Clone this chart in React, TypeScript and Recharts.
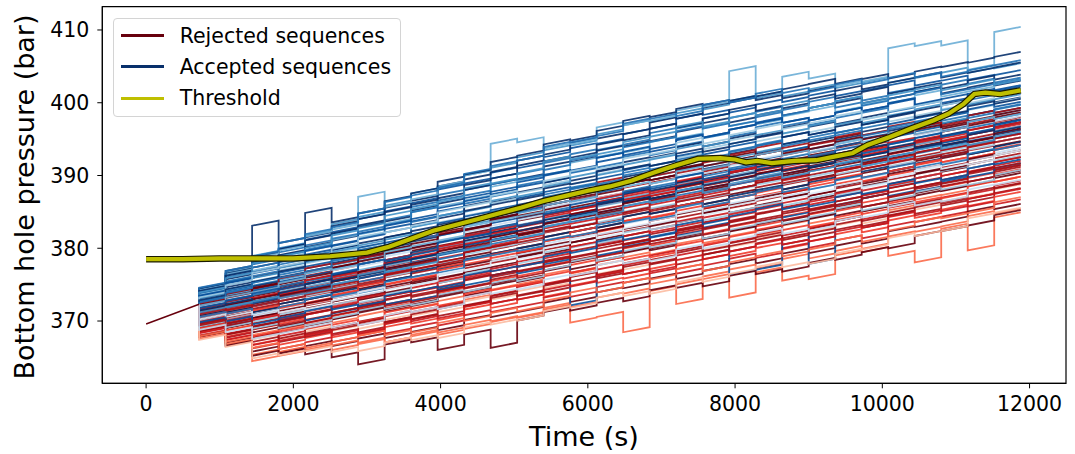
import React from 'react';
import { LineChart, Line, XAxis, YAxis, ReferenceArea, Legend } from 'recharts';

// ---------- data ----------
const X_TICKS = [0, 2000, 4000, 6000, 8000, 10000, 12000];
const Y_TICKS = [370, 380, 390, 400, 410];
const X_DOMAIN = [-595, 12495];
const Y_DOMAIN = [361.44, 413.2];

// start time of each 360 s segment (s)
const SEGMENT_STARTS = [720, 1080, 1440, 1800, 2160, 2520, 2880, 3240, 3600, 3960, 4320, 4680, 5040, 5400, 5760, 6120, 6480, 6840, 7200, 7560, 7920, 8280, 8640, 9000, 9360, 9720, 10080, 10440, 10800, 11160, 11520];
const SEGMENT_LENGTH = 360;
// pressure rise within one segment (bar)
const SEGMENT_DRIFT = 0.7;

// centre and half width of the ensemble band per segment (bar)
const BAND_CENTER = [371.5, 372.0, 372.5, 373.3, 374.2, 375.0, 375.9, 376.8, 377.8, 378.8, 379.8, 380.8, 381.8, 382.8, 383.7, 384.6, 385.5, 386.4, 387.2, 388.0, 388.7, 389.3, 389.9, 390.5, 391.1, 391.7, 392.4, 393.1, 393.8, 394.5, 395.2];
const BAND_HALF_WIDTH = [3.8, 5.5, 7.3, 8.0, 8.6, 9.1, 9.6, 10.0, 10.4, 10.8, 11.1, 11.4, 11.5, 11.7, 11.8, 12.0, 12.1, 12.2, 12.3, 12.4, 12.4, 12.4, 12.4, 12.3, 12.1, 11.9, 11.6, 11.3, 11.0, 10.7, 10.4];

// shared first part of every sequence
const INITIAL_TIMES = [0, 720];
const INITIAL_VALUES = [369.6, 372.3];

// position of each sequence inside the band, per segment (% of half width)
const ACCEPTED_OFFSETS = [
  [86,90,93,88,92,95,91,94,97,92,95,93,96,94,91,95,97,93,95,92,96,94,91,95,93,96,92,94,97,93,95],
  [80,84,82,87,85,83,88,86,84,89,85,87,83,86,88,84,87,85,89,86,83,87,85,88,84,86,89,85,87,84,86],
  [75,79,77,81,76,80,78,74,79,82,77,80,76,79,81,77,75,80,78,82,77,79,76,81,78,75,80,77,82,79,76],
  [70,74,71,75,73,70,76,72,74,71,77,73,70,75,72,76,73,71,74,77,72,75,70,74,76,72,73,77,71,74,72],
  [66,69,65,70,67,71,66,69,72,67,64,70,68,65,71,69,66,70,67,72,68,65,69,71,66,70,68,73,67,69,65],
  [60,64,62,66,61,63,67,62,60,65,63,61,66,64,60,63,67,62,65,61,64,66,62,60,65,63,67,61,64,62,66],
  [56,59,55,60,58,56,61,57,59,55,60,58,62,56,59,57,61,55,58,60,56,62,58,55,59,61,57,60,56,58,61],
  [50,54,52,55,51,56,53,50,55,52,57,51,54,56,50,53,55,52,57,51,54,50,56,53,52,55,51,54,57,52,50],
  [46,49,45,50,47,51,46,48,52,47,45,50,48,53,46,49,47,51,45,48,52,46,50,47,49,53,46,48,51,45,49],
  [41,45,43,46,42,44,47,43,41,46,44,42,47,45,41,44,46,43,47,42,45,41,46,44,42,47,43,45,41,46,44],
  [38,41,37,42,39,41,36,40,43,38,41,39,37,42,40,38,43,39,41,37,40,42,38,41,39,43,37,40,42,38,41],
  [33,37,35,38,34,36,39,35,33,38,36,34,39,37,33,36,38,35,39,34,37,33,38,36,34,39,35,37,33,38,36],
  [30,33,29,34,31,33,28,32,35,30,33,31,29,34,32,30,35,31,33,29,32,34,30,33,31,35,29,32,34,30,33],
  [25,29,27,30,26,28,31,27,25,30,28,26,31,29,25,28,30,27,31,26,29,25,30,28,26,31,27,29,25,30,28],
  [22,25,21,26,23,25,20,24,27,22,25,23,21,26,24,22,27,23,25,21,24,26,22,25,23,27,21,24,26,22,25],
  [17,21,19,22,18,20,23,19,17,22,20,18,23,21,17,20,22,19,23,18,21,17,22,20,18,23,19,21,17,22,20],
  [14,17,13,18,15,17,12,16,19,14,17,15,13,18,16,14,19,15,17,13,16,18,14,17,15,19,13,16,18,14,17],
  [9,13,11,14,10,12,15,11,9,14,12,10,15,13,9,12,14,11,15,10,13,9,14,12,10,15,11,13,9,14,12],
  [5,8,4,9,6,8,3,7,10,5,8,6,4,9,7,5,10,6,8,4,7,9,5,8,6,10,4,7,9,5,8],
  [0,3,-1,4,1,3,-2,2,5,0,3,1,-1,4,2,0,5,1,3,-1,2,4,0,3,1,5,-1,2,4,0,3],
  [-6,-3,-7,-2,-5,-3,-8,-4,-1,-6,-3,-5,-7,-2,-4,-6,-1,-5,-3,-7,-4,-2,-6,-3,-5,-1,-7,-4,-2,-6,-3],
  [-12,-9,-13,-8,-11,-9,-14,-10,-7,-12,-9,-11,-13,-8,-10,-12,-7,-11,-9,-13,-10,-8,-12,-9,-11,-7,-13,-10,-8,-12,-9],
  [-20,-17,-21,-16,-19,-17,-22,-18,-15,-20,-17,-19,-21,-16,-18,-20,-15,-19,-17,-21,-18,-16,-20,-17,-19,-15,-21,-18,-16,-20,-17],
  [-30,-27,-31,-26,-29,-27,-32,-28,-25,-30,-27,-29,-31,-26,-28,-30,-25,-29,-27,-31,-28,-26,-30,-27,-29,-25,-31,-28,-26,-30,-27],
  [-38,-42,-40,-36,-44,-40,-38,-42,-45,-39,-41,-37,-43,-40,-95,-44,-41,-38,-42,-39,-97,-96,-43,-100,-40,-38,-42,-44,-39,-41,-37],
  [84,88,90,86,89,92,88,91,87,93,90,88,92,89,94,90,87,92,89,94,96,92,89,93,90,88,92,95,91,93,96],
  [72,68,71,74,69,73,70,67,72,75,70,73,69,71,74,68,72,70,75,71,68,73,70,74,71,69,73,76,70,72,74],
  [52,48,51,54,49,53,50,47,52,55,50,53,49,51,54,48,52,50,55,51,48,53,50,54,51,49,53,56,50,52,54],
  [82,86,88,84,90,87,120,92,89,93,95,122,114,96,93,103,97,94,98,95,129,96,113,107,95,97,133,133,131,97,143],
  [88,95,150,97,128,98,96,100,97,99,96,100,98,101,97,99,102,98,100,97,94,96,99,101,98,100,97,102,104,106,110],
  [90,95,92,97,94,90,96,99,94,91,97,95,92,98,95,93,99,96,92,97,94,99,95,92,97,94,98,95,92,96,99],
  [78,83,80,76,84,81,79,85,82,78,83,80,86,81,77,83,80,85,79,82,86,80,78,84,81,85,79,82,77,83,80],
  [73,77,79,74,72,78,75,80,76,73,79,74,77,81,75,72,78,76,80,73,77,75,81,74,78,72,77,80,75,78,73],
  [61,65,60,64,67,62,59,66,63,61,67,64,60,65,62,68,63,59,66,61,64,67,62,60,65,63,68,62,59,66,64],
  [55,59,61,56,53,58,62,57,54,60,56,59,53,58,61,55,59,56,62,54,58,60,55,57,61,53,58,60,56,54,59],
  [45,49,44,48,51,46,43,50,47,44,51,48,45,49,46,52,47,43,50,45,48,51,46,44,49,47,52,46,43,50,48],
  [36,40,42,37,34,39,43,38,35,41,37,40,34,39,42,36,40,37,43,35,39,41,36,38,42,34,39,41,37,35,40],
  [25,29,24,28,31,26,23,30,27,24,31,28,25,29,26,32,27,23,30,25,28,31,26,24,29,27,32,26,23,30,28],
  [16,20,22,17,14,19,23,18,15,21,17,20,14,19,22,16,20,17,23,15,19,21,16,18,22,14,19,21,17,15,20],
  [8,12,7,11,14,9,6,13,10,7,14,11,8,12,9,15,10,6,13,8,11,14,9,7,12,10,15,9,6,13,11],
  [1,5,7,2,-1,4,8,3,0,6,2,5,-1,4,7,1,5,2,8,0,4,6,1,3,7,-1,4,6,2,0,5],
  [-16,-12,-17,-13,-10,-15,-18,-11,-14,-17,-10,-13,-16,-12,-15,-9,-14,-18,-11,-16,-13,-10,-15,-17,-12,-14,-9,-15,-18,-11,-13],
  [-24,-20,-18,-23,-26,-21,-17,-22,-25,-19,-23,-20,-26,-21,-18,-24,-20,-23,-17,-25,-21,-19,-24,-22,-18,-26,-21,-19,-23,-25,-20],
  [-35,-31,-36,-32,-29,-34,-37,-30,-33,-36,-29,-32,-35,-31,-34,-28,-33,-37,-30,-35,-32,-29,-34,-36,-31,-33,-28,-34,-37,-30,-32],
  [-50,-46,-44,-49,-52,-47,-43,-48,-51,-45,-49,-46,-52,-47,-44,-50,-46,-49,-43,-51,-47,-45,-50,-48,-44,-52,-47,-45,-49,-51,-46],
  [-62,-58,-63,-59,-56,-61,-64,-57,-60,-63,-56,-59,-62,-58,-61,-55,-60,-64,-57,-62,-59,-56,-61,-63,-58,-60,-55,-61,-64,-57,-59],
];
const ACCEPTED_COLORS = [
  '#4292c6', '#08519c', '#2171b5', '#08306b', '#6baed6', '#08519c', '#2171b5', '#08306b', '#9ecae1', '#08519c',
  '#2171b5', '#08306b', '#4292c6', '#08519c', '#c6dbef', '#2171b5', '#08306b', '#6baed6', '#08519c', '#2171b5',
  '#9ecae1', '#08306b', '#c6dbef', '#9ecae1', '#08519c', '#08306b', '#2171b5', '#4292c6', '#6baed6', '#08306b',
  '#2171b5', '#08306b', '#4292c6', '#08519c', '#9ecae1', '#08306b', '#2171b5', '#6baed6', '#08519c', '#08306b',
  '#4292c6', '#2171b5', '#deebf7', '#08519c', '#9ecae1', '#c6dbef',
];

const REJECTED_OFFSETS = [
  [22,26,24,21,27,25,23,28,24,22,26,29,23,25,27,22,26,24,28,23,25,21,27,24,26,22,28,25,23,27,24],
  [18,21,17,22,20,16,23,19,21,17,22,18,20,24,19,17,21,23,18,20,16,22,19,21,24,18,20,17,23,19,21],
  [13,16,12,17,14,18,13,15,11,16,19,14,12,17,15,13,18,14,16,12,17,15,13,19,14,16,12,18,15,13,17],
  [8,11,7,12,9,13,8,10,6,11,14,9,7,12,10,8,13,9,11,7,12,10,8,14,9,11,7,13,10,8,12],
  [3,6,2,7,4,8,3,5,1,6,9,4,2,7,5,3,8,4,6,2,7,5,3,9,4,6,2,8,5,3,7],
  [-2,1,-3,2,-1,3,-2,0,-4,1,4,-1,-3,2,0,-2,3,-1,1,-3,2,0,-2,4,-1,1,-3,3,0,-2,2],
  [-7,-4,-8,-3,-6,-2,-7,-5,-9,-4,-1,-6,-8,-3,-5,-7,-2,-6,-4,-8,-3,-5,-7,-1,-6,-4,-8,-2,-5,-7,-3],
  [-12,-9,-13,-8,-11,-7,-12,-10,-14,-9,-6,-11,-13,-8,-10,-12,-7,-11,-9,-13,-8,-10,-12,-6,-11,-9,-13,-7,-10,-12,-8],
  [-17,-14,-18,-13,-16,-12,-17,-15,-19,-14,-11,-16,-18,-13,-15,-17,-12,-16,-14,-18,-13,-15,-17,-11,-16,-14,-18,-12,-15,-17,-13],
  [-18,-22,-19,-24,-20,-17,-23,-21,-18,-25,-20,-22,-19,-23,-17,-21,-24,-19,-22,-18,-23,-20,-17,-24,-21,-19,-23,-18,-22,-20,-24],
  [-23,-27,-24,-29,-25,-22,-28,-26,-23,-30,-25,-27,-24,-28,-22,-26,-29,-24,-27,-23,-28,-25,-22,-29,-26,-24,-28,-23,-27,-25,-29],
  [-28,-32,-29,-34,-30,-27,-33,-31,-28,-35,-30,-32,-29,-33,-27,-31,-34,-29,-32,-28,-33,-30,-27,-34,-31,-29,-33,-28,-32,-30,-34],
  [-33,-37,-34,-39,-35,-32,-38,-36,-33,-40,-35,-37,-34,-38,-32,-36,-39,-34,-37,-33,-38,-35,-32,-39,-36,-34,-38,-33,-37,-35,-39],
  [-42,-38,-41,-37,-43,-39,-36,-42,-40,-38,-44,-39,-41,-37,-43,-40,-38,-42,-36,-41,-39,-43,-37,-40,-42,-38,-44,-39,-41,-37,-40],
  [-47,-43,-46,-42,-48,-44,-41,-47,-45,-43,-49,-44,-46,-42,-48,-45,-43,-47,-41,-46,-44,-48,-42,-45,-47,-43,-49,-44,-46,-42,-45],
  [-52,-48,-51,-47,-53,-49,-46,-52,-50,-48,-54,-49,-51,-47,-53,-50,-48,-52,-46,-51,-49,-53,-47,-50,-52,-48,-54,-49,-51,-47,-50],
  [-57,-53,-56,-52,-58,-54,-51,-57,-55,-53,-59,-54,-56,-52,-58,-55,-53,-57,-51,-56,-54,-58,-52,-55,-57,-53,-59,-54,-56,-52,-55],
  [-58,-62,-59,-63,-57,-61,-64,-58,-60,-62,-56,-61,-59,-63,-57,-60,-62,-58,-64,-59,-61,-57,-63,-60,-58,-62,-56,-61,-59,-63,-60],
  [-63,-67,-64,-68,-62,-66,-69,-63,-65,-67,-61,-66,-64,-68,-62,-65,-67,-63,-69,-64,-66,-62,-68,-65,-63,-67,-61,-66,-64,-68,-65],
  [-68,-72,-69,-73,-67,-71,-74,-68,-70,-72,-66,-71,-69,-73,-67,-70,-72,-68,-74,-69,-71,-67,-73,-70,-68,-72,-66,-71,-69,-73,-70],
  [-73,-77,-74,-78,-72,-76,-79,-73,-75,-77,-71,-76,-74,-78,-72,-75,-77,-73,-79,-74,-76,-72,-78,-75,-73,-77,-71,-76,-74,-78,-75],
  [-82,-78,-81,-85,-79,-83,-77,-82,-80,-84,-78,-81,-83,-79,-85,-80,-82,-78,-84,-81,-79,-83,-77,-82,-80,-84,-78,-81,-83,-79,-85],
  [-88,-84,-87,-91,-85,-89,-83,-88,-86,-90,-84,-87,-89,-85,-91,-86,-88,-84,-90,-87,-85,-89,-83,-88,-86,-90,-84,-87,-89,-85,-91],
  [-94,-90,-93,-97,-91,-95,-89,-94,-92,-96,-90,-93,-95,-91,-97,-92,-94,-90,-96,-93,-91,-95,-89,-94,-92,-96,-90,-93,-95,-91,-97],
  [32,28,31,26,33,29,27,32,30,34,28,31,26,33,29,35,30,27,32,29,34,31,28,33,36,30,32,34,29,31,33],
  [0,-4,-1,3,-3,1,-5,-2,2,-4,0,-3,4,-1,-5,1,-2,3,-4,0,-3,2,-1,4,-2,1,-4,3,0,-3,2],
  [-60,-64,-61,-58,-65,-62,-59,-66,-63,-60,-67,-62,-58,-64,-61,-66,-60,-63,-59,-65,-62,-60,-66,-61,-58,-64,-62,-59,-65,-61,-63],
  [14,10,13,8,15,11,9,14,12,16,10,13,8,15,11,17,12,9,14,11,16,13,10,15,18,12,14,16,11,13,15],
  [-85,-88,-105,-90,-92,-88,-91,-94,-90,-93,-95,-92,-96,-93,-115,-114,-138,-98,-118,-96,-122,-99,-113,-117,-97,-100,-113,-130,-98,-135,-102],
  [-86,-92,-95,-93,-98,-106,-120,-97,-100,-115,-102,-124,-99,-96,-101,-98,-103,-97,-100,-104,-98,-101,-103,-99,-102,-100,-104,-98,-101,-103,-99],
  [33,37,32,36,39,34,31,38,35,32,39,36,33,37,34,40,35,31,38,33,36,39,34,32,37,35,40,34,31,38,36],
  [26,30,32,27,24,29,33,28,25,31,27,30,24,29,32,26,30,27,33,25,29,31,26,28,32,24,29,31,27,25,30],
  [14,18,13,17,20,15,12,19,16,13,20,17,14,18,15,21,16,12,19,14,17,20,15,13,18,16,21,15,12,19,17],
  [5,9,11,6,3,8,12,7,4,10,6,9,3,8,11,5,9,6,12,4,8,10,5,7,11,3,8,10,6,4,9],
  [-6,-2,-7,-3,0,-5,-8,-1,-4,-7,0,-3,-6,-2,-5,1,-4,-8,-1,-6,-3,0,-5,-7,-2,-4,1,-5,-8,-1,-3],
  [-16,-12,-10,-15,-18,-13,-9,-14,-17,-11,-15,-12,-18,-13,-10,-16,-12,-15,-9,-17,-13,-11,-16,-14,-10,-18,-13,-11,-15,-17,-12],
  [-23,-19,-24,-20,-17,-22,-25,-18,-21,-24,-17,-20,-23,-19,-22,-16,-21,-25,-18,-23,-20,-17,-22,-24,-19,-21,-16,-22,-25,-18,-20],
  [-33,-29,-27,-32,-35,-30,-26,-31,-34,-28,-32,-29,-35,-30,-27,-33,-29,-32,-26,-34,-30,-28,-33,-31,-27,-35,-30,-28,-32,-34,-29],
  [-40,-36,-41,-37,-34,-39,-42,-35,-38,-41,-34,-37,-40,-36,-39,-33,-38,-42,-35,-40,-37,-34,-39,-41,-36,-38,-33,-39,-42,-35,-37],
  [-51,-47,-45,-50,-53,-48,-44,-49,-52,-46,-50,-47,-53,-48,-45,-51,-47,-50,-44,-52,-48,-46,-51,-49,-45,-53,-48,-46,-50,-52,-47],
  [-58,-54,-59,-55,-52,-57,-60,-53,-56,-59,-52,-55,-58,-54,-57,-51,-56,-60,-53,-58,-55,-52,-57,-59,-54,-56,-51,-57,-60,-53,-55],
  [-68,-64,-62,-67,-70,-65,-61,-66,-69,-63,-67,-64,-70,-65,-62,-68,-64,-67,-61,-69,-65,-63,-68,-66,-62,-70,-65,-63,-67,-69,-64],
  [-74,-70,-75,-71,-68,-73,-76,-69,-72,-75,-68,-71,-74,-70,-73,-67,-72,-76,-69,-74,-71,-68,-73,-75,-70,-72,-67,-73,-76,-69,-71],
  [-86,-82,-80,-85,-88,-83,-79,-84,-87,-81,-85,-82,-88,-83,-80,-86,-82,-85,-79,-87,-83,-81,-86,-84,-80,-88,-83,-81,-85,-87,-82],
  [-99,-95,-100,-96,-93,-98,-101,-94,-97,-100,-93,-96,-99,-95,-98,-92,-97,-101,-94,-99,-96,-93,-98,-100,-95,-97,-92,-98,-101,-94,-96],
  [-46,-42,-40,-45,-48,-43,-39,-44,-47,-41,-45,-42,-48,-43,-40,-46,-42,-45,-39,-47,-43,-41,-46,-44,-40,-48,-43,-41,-45,-47,-42],
];
const REJECTED_COLORS = [
  '#a50f15', '#67000d', '#cb181d', '#a50f15', '#67000d', '#cb181d', '#a50f15', '#67000d', '#ef3b2c', '#a50f15',
  '#67000d', '#cb181d', '#a50f15', '#a50f15', '#ef3b2c', '#67000d', '#fb6a4a', '#cb181d', '#fcbba1', '#a50f15',
  '#ef3b2c', '#cb181d', '#67000d', '#fb6a4a', '#67000d', '#a50f15', '#a50f15', '#cb181d', '#fb6a4a', '#67000d',
  '#a50f15', '#67000d', '#cb181d', '#67000d', '#a50f15', '#ef3b2c', '#67000d', '#cb181d', '#a50f15', '#67000d',
  '#ef3b2c', '#a50f15', '#cb181d', '#fb6a4a', '#fcbba1', '#a50f15',
];

// threshold curve
const THRESHOLD_TIMES = [0, 500, 1000, 1500, 2000, 2500, 3000, 3300, 3600, 3900, 4200, 4500, 4800, 5100, 5400, 5700, 6000, 6300, 6600, 6900, 7200, 7500, 7800, 8000, 8150, 8300, 8500, 8800, 9100, 9400, 9600, 9800, 10100, 10400, 10700, 10900, 11100, 11250, 11400, 11600, 11880];
const THRESHOLD_VALUES = [378.5, 378.5, 378.6, 378.6, 378.6, 378.9, 379.4, 380.2, 381.3, 382.4, 383.2, 384.0, 384.8, 385.6, 386.5, 387.2, 387.9, 388.5, 389.3, 390.4, 391.4, 392.3, 392.4, 392.2, 391.8, 392.0, 391.7, 392.0, 392.1, 392.7, 393.1, 394.2, 395.3, 396.5, 397.6, 398.5, 399.8, 401.2, 401.4, 401.2, 401.7];

const LEGEND_LABELS = ['Rejected sequences', 'Accepted sequences', 'Threshold'];
const LEGEND_COLORS = ['#67000d', '#08306b', '#bfbf00'];

// ---------- building the series ----------
type Pt = { t: number; v: number };

function buildSequence(offsets: number[]): Pt[] {
  const pts: Pt[] = [{ t: INITIAL_TIMES[1], v: INITIAL_VALUES[1] }];
  for (let k = 0; k < SEGMENT_STARTS.length; k++) {
    const level = BAND_CENTER[k] + (offsets[k] / 100) * BAND_HALF_WIDTH[k];
    pts.push({ t: SEGMENT_STARTS[k], v: level - SEGMENT_DRIFT / 2 });
    pts.push({ t: SEGMENT_STARTS[k] + SEGMENT_LENGTH, v: level + SEGMENT_DRIFT / 2 });
  }
  return pts;
}

const acceptedSeries = ACCEPTED_OFFSETS.map(buildSequence);
const rejectedSeries = REJECTED_OFFSETS.map(buildSequence);
const initialSeries: Pt[] = INITIAL_TIMES.map((t, i) => ({ t, v: INITIAL_VALUES[i] }));
const thresholdSeries: Pt[] = THRESHOLD_TIMES.map((t, i) => ({ t, v: THRESHOLD_VALUES[i] }));

// draw order: rejected and accepted interleaved
type Drawn = { key: string; data: Pt[]; color: string };
const drawOrder: Drawn[] = [];
const n = Math.max(acceptedSeries.length, rejectedSeries.length);
for (let i = 0; i < n; i++) {
  if (i < rejectedSeries.length) drawOrder.push({ key: 'r' + i, data: rejectedSeries[i], color: REJECTED_COLORS[i] });
  if (i < acceptedSeries.length) drawOrder.push({ key: 'a' + i, data: acceptedSeries[i], color: ACCEPTED_COLORS[i] });
}

const FONT = 'DejaVu Sans, sans-serif';

const LegendBox = () => (
  <div
    style={{
      width: 288,
      height: 99,
      boxSizing: 'border-box',
      border: '1px solid #d4d4d4',
      borderRadius: 4,
      background: 'rgba(255,255,255,0.85)',
      fontFamily: FONT,
      fontSize: 20.5,
      color: '#000',
      position: 'relative',
    }}
  >
    {LEGEND_LABELS.map((label, i) => (
      <div key={label} style={{ position: 'absolute', left: 7, top: 5 + i * 31.2, height: 24, display: 'flex', alignItems: 'center' }}>
        <div style={{ width: 43, height: 3, background: LEGEND_COLORS[i] }} />
        <span style={{ marginLeft: 16, whiteSpace: 'nowrap', lineHeight: '24px' }}>{label}</span>
      </div>
    ))}
  </div>
);

const YTitle = () => (
  <text x={34} y={197} transform="rotate(-90 34 197)" textAnchor="middle" fontSize={27} fontFamily={FONT} fill="#000">
    Bottom hole pressure (bar)
  </text>
);
const XTitle = () => (
  <text x={584} y={446} textAnchor="middle" fontSize={27} fontFamily={FONT} fill="#000">
    Time (s)
  </text>
);

export default function App() {
  return (
    <div style={{ position: 'absolute', left: 0, top: 0, background: '#fff' }}>
      <LineChart width={1075} height={454} margin={{ top: 6.7, right: 9, bottom: 0, left: 0 }}>
        <XAxis
          type="number"
          dataKey="t"
          domain={X_DOMAIN}
          ticks={X_TICKS}
          allowDataOverflow
          height={70.7}
          tickSize={5}
          tickMargin={8}
          stroke="#000"
          tick={{ fontSize: 20.5, fill: '#000', fontFamily: FONT }}
          label={<XTitle />}
        />
        <YAxis
          type="number"
          domain={Y_DOMAIN}
          ticks={Y_TICKS}
          allowDataOverflow
          width={102.3}
          tickSize={5}
          tickMargin={8}
          stroke="#000"
          tick={{ fontSize: 20.5, fill: '#000', fontFamily: FONT }}
          label={<YTitle />}
        />
        {drawOrder.map((s) => (
          <Line
            key={s.key}
            data={s.data}
            dataKey="v"
            type="linear"
            stroke={s.color}
            strokeWidth={1.8}
            strokeOpacity={0.9}
            dot={false}
            activeDot={false}
            isAnimationActive={false}
            legendType="none"
          />
        ))}
        <Line data={initialSeries} dataKey="v" type="linear" stroke="#67000d" strokeWidth={1.5} dot={false} activeDot={false} isAnimationActive={false} legendType="none" />
        <Line data={thresholdSeries} dataKey="v" type="linear" stroke="#1a1a00" strokeWidth={6.5} dot={false} activeDot={false} isAnimationActive={false} legendType="none" />
        <Line data={thresholdSeries} dataKey="v" type="linear" stroke="#bfbf00" strokeWidth={4.2} dot={false} activeDot={false} isAnimationActive={false} legendType="none" />
        <ReferenceArea x1={X_DOMAIN[0]} x2={X_DOMAIN[1]} y1={Y_DOMAIN[0]} y2={Y_DOMAIN[1]} fill="none" stroke="#000" strokeWidth={1.2} ifOverflow="visible" />
        <Legend
          content={<LegendBox />}
          layout="vertical"
          align="center"
          verticalAlign="middle"
          wrapperStyle={{ left: 112.7, top: 17.7, width: 288, height: 99 }}
        />
      </LineChart>
    </div>
  );
}
